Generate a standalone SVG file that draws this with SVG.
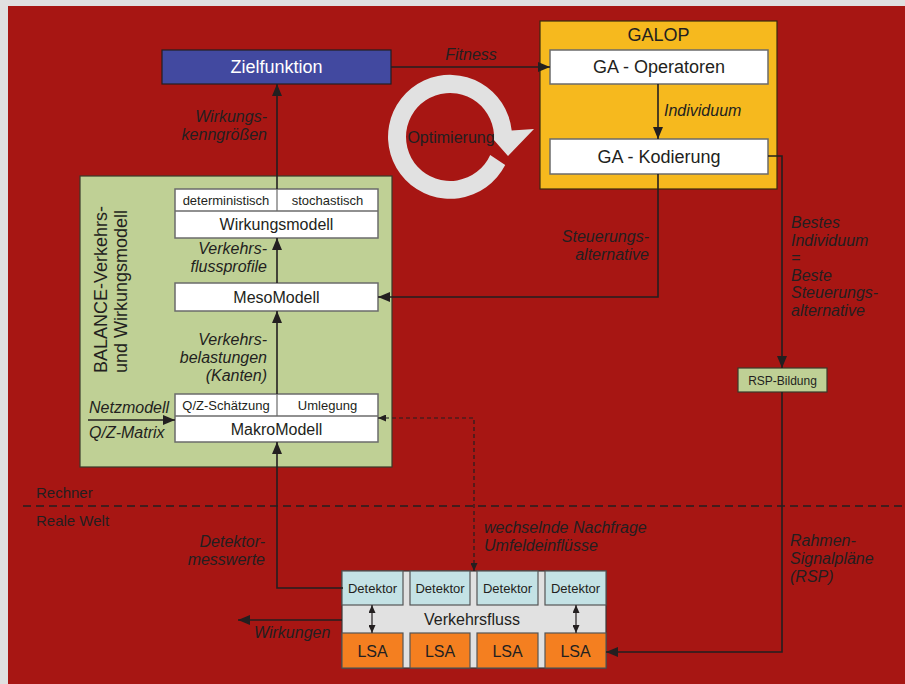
<svg xmlns="http://www.w3.org/2000/svg" width="905" height="684" viewBox="0 0 905 684">
<style>
text{font-family:"Liberation Sans",Arial,sans-serif;fill:#231f20}
.it{font-style:italic;font-size:16px}
.box{fill:#fff;stroke:#6b6b6b;stroke-width:1.5}
.ln{fill:none;stroke:#231f20;stroke-width:1.6}
.dash{fill:none;stroke:#231f20;stroke-width:1.2;stroke-dasharray:4 3}
.c{text-anchor:middle}
.r{text-anchor:end}
</style>
<defs>
<marker id="ah" markerUnits="userSpaceOnUse" markerWidth="12" markerHeight="10" refX="12" refY="5" orient="auto-start-reverse">
<path d="M0,0 L12,5 L0,10 Z" fill="#231f20"/>
</marker>
<marker id="ahs" markerUnits="userSpaceOnUse" markerWidth="8" markerHeight="7" refX="8" refY="3.5" orient="auto-start-reverse">
<path d="M0,0 L8,3.5 L0,7 Z" fill="#231f20"/>
</marker>
</defs>
<rect x="0" y="0" width="905" height="684" fill="#e0e0e0"/>
<rect x="8" y="6" width="897" height="678" fill="#a71613"/>

<g id="separator">
<line x1="23" y1="506" x2="905" y2="506" stroke="#231f20" stroke-width="1.5" stroke-dasharray="8 5"/>
<text x="36" y="498" font-size="15">Rechner</text>
<text x="36" y="526" font-size="15">Reale Welt</text>
</g>

<g id="optimierung">
<path d="M505.2,165.1 A62,62 0 1 1 511.7,130.5 L534,129 L508,156 L493.9,140.1 A44,44 0 1 0 490.2,154.9 Z" fill="#e1e1e1"/>
<text x="451" y="143" font-size="16" class="c">Optimierung</text>
</g>

<g id="balance">
<rect x="80" y="176" width="312" height="291" fill="#bfd095" stroke="#3a3a2a" stroke-width="1.2"/>
<text transform="translate(107,373) rotate(-90)" font-size="18">BALANCE-Verkehrs-</text>
<text transform="translate(127,373) rotate(-90)" font-size="18">und Wirkungsmodell</text>
</g>

<g id="zielfunktion">
<rect x="162" y="50" width="229" height="34" fill="#4249a0" stroke="#231f20" stroke-width="1.2"/>
<text x="276.5" y="73" font-size="18" class="c" style="fill:#fff">Zielfunktion</text>
</g>

<g id="wirkungsmodell">
<rect x="175" y="189" width="203" height="49" class="box"/>
<line x1="175" y1="211" x2="378" y2="211" stroke="#6b6b6b" stroke-width="1.5"/>
<line x1="277" y1="189" x2="277" y2="211" stroke="#6b6b6b" stroke-width="1.2"/>
<text x="226" y="205" font-size="13" class="c">deterministisch</text>
<text x="327.5" y="205" font-size="13" class="c">stochastisch</text>
<text x="276.5" y="230" font-size="16" class="c">Wirkungsmodell</text>
</g>

<g id="mesomodell">
<rect x="175" y="283" width="203" height="28" class="box"/>
<text x="276.5" y="303" font-size="16" class="c">MesoModell</text>
</g>

<g id="makromodell">
<rect x="175" y="394" width="203" height="48" class="box"/>
<line x1="175" y1="416" x2="378" y2="416" stroke="#6b6b6b" stroke-width="1.5"/>
<line x1="277" y1="394" x2="277" y2="416" stroke="#6b6b6b" stroke-width="1.2"/>
<text x="226" y="410" font-size="13" class="c">Q/Z-Schätzung</text>
<text x="327.5" y="410" font-size="13" class="c">Umlegung</text>
<text x="276.5" y="435" font-size="16" class="c">MakroModell</text>
</g>

<g id="galop">
<rect x="540" y="21" width="237" height="168" fill="#f6b91e" stroke="#3a2a10" stroke-width="1.2"/>
<text x="658.5" y="41" font-size="18" class="c">GALOP</text>
</g>

<g id="ga-operatoren">
<rect x="550" y="50" width="218" height="34" class="box"/>
<text x="659" y="73" font-size="18" class="c">GA - Operatoren</text>
</g>

<g id="ga-kodierung">
<rect x="550" y="139" width="218" height="35" class="box"/>
<text x="659" y="163" font-size="18" class="c">GA - Kodierung</text>
</g>

<g id="rsp-bildung">
<rect x="738" y="368" width="89" height="24" fill="#bfd095" stroke="#3a3a2a" stroke-width="1.2"/>
<text x="782.5" y="384.5" font-size="12" class="c">RSP-Bildung</text>
</g>

<g id="feld">
<rect x="342" y="571" width="264" height="97" fill="#e1e1e1" stroke="#3a3a3a" stroke-width="1.2"/>
<g fill="#c4e2e5" stroke="#555" stroke-width="1.2">
<rect x="342" y="571" width="61" height="34"/>
<rect x="410" y="571" width="60" height="34"/>
<rect x="477" y="571" width="61" height="34"/>
<rect x="545" y="571" width="61" height="34"/>
</g>
<g fill="#f47f20" stroke="#555" stroke-width="1.2">
<rect x="342" y="633" width="61" height="35"/>
<rect x="410" y="633" width="60" height="35"/>
<rect x="477" y="633" width="61" height="35"/>
<rect x="545" y="633" width="61" height="35"/>
</g>
<g font-size="13" class="c">
<text x="372.5" y="593" class="c">Detektor</text>
<text x="440" y="593" class="c">Detektor</text>
<text x="507.5" y="593" class="c">Detektor</text>
<text x="575.5" y="593" class="c">Detektor</text>
</g>
<text x="472" y="625" font-size="16" class="c">Verkehrsfluss</text>
<g font-size="16">
<text x="372.5" y="657" class="c">LSA</text>
<text x="440" y="657" class="c">LSA</text>
<text x="507.5" y="657" class="c">LSA</text>
<text x="575.5" y="657" class="c">LSA</text>
</g>
</g>

<g id="connectors">
<path d="M277,189 V84" class="ln" marker-end="url(#ah)"/>
<path d="M277,283 V238" class="ln" marker-end="url(#ah)"/>
<path d="M277,394 V311" class="ln" marker-end="url(#ah)"/>
<path d="M343,588 H277 V442" class="ln" marker-end="url(#ah)"/>
<path d="M88,420 H175" class="ln" marker-end="url(#ah)"/>
<path d="M391,67 H550" class="ln" marker-end="url(#ah)"/>
<path d="M658,84 V139" class="ln" marker-end="url(#ah)"/>
<path d="M658,174 V297 H378" class="ln" marker-end="url(#ah)"/>
<path d="M768,156 H782 V368" class="ln" marker-end="url(#ah)"/>
<path d="M782,392 V652 H606" class="ln" marker-end="url(#ah)"/>
<path d="M342,620 H238" class="ln" marker-end="url(#ah)"/>
<path d="M474,571 V418 H378" class="dash" marker-start="url(#ahs)" marker-end="url(#ahs)"/>
<path d="M372,605 V633" stroke="#231f20" stroke-width="1.2" marker-start="url(#ahs)" marker-end="url(#ahs)"/>
<path d="M576,605 V633" stroke="#231f20" stroke-width="1.2" marker-start="url(#ahs)" marker-end="url(#ahs)"/>
</g>

<g id="labels">
<text x="471" y="60" class="it c">Fitness</text>
<text x="664" y="116" class="it">Individuum</text>
<text x="267" y="122" class="it r">Wirkungs-</text>
<text x="267" y="140" class="it r">kenngrößen</text>
<text x="267" y="254" class="it r">Verkehrs-</text>
<text x="267" y="272" class="it r">flussprofile</text>
<text x="267" y="345" class="it r">Verkehrs-</text>
<text x="267" y="363" class="it r">belastungen</text>
<text x="267" y="381" class="it r">(Kanten)</text>
<text x="89" y="413" class="it">Netzmodell</text>
<text x="89" y="438" class="it">Q/Z-Matrix</text>
<text x="649" y="242" class="it r">Steuerungs-</text>
<text x="649" y="260" class="it r">alternative</text>
<text x="791" y="228" class="it">Bestes</text>
<text x="791" y="245.5" class="it">Individuum</text>
<text x="791" y="263" class="it">=</text>
<text x="791" y="280.5" class="it">Beste</text>
<text x="791" y="298" class="it">Steuerungs-</text>
<text x="791" y="315.5" class="it">alternative</text>
<text x="265" y="547" class="it r">Detektor-</text>
<text x="265" y="565" class="it r">messwerte</text>
<text x="484" y="533" class="it">wechselnde Nachfrage</text>
<text x="484" y="551" class="it">Umfeldeinflüsse</text>
<text x="790" y="546" class="it">Rahmen-</text>
<text x="790" y="564" class="it">Signalpläne</text>
<text x="790" y="582" class="it">(RSP)</text>
<text x="254" y="638" class="it">Wirkungen</text>
</g>
</svg>
